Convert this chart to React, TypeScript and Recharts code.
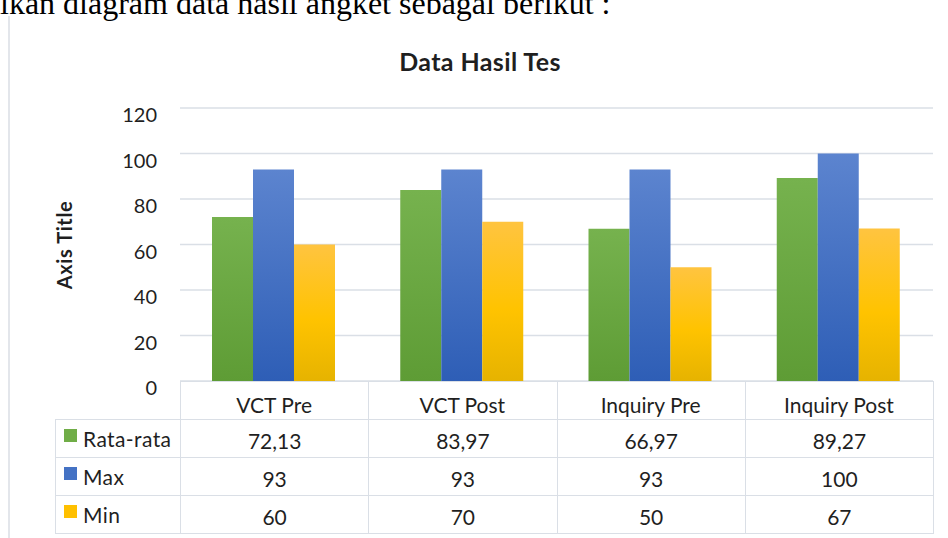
import React from 'react';
import { BarChart, Bar, XAxis, YAxis, CartesianGrid } from 'recharts';

const categories = ['VCT Pre', 'VCT Post', 'Inquiry Pre', 'Inquiry Post'];
const rataRata = [72.13, 83.97, 66.97, 89.27];
const maxValues = [93, 93, 93, 100];
const minValues = [60, 70, 50, 67];
const yTicks = [0, 20, 40, 60, 80, 100, 120];

const seriesList = [
  { key: 'rata', name: 'Rata-rata', values: rataRata, color: '#70ad47', grad: 'gGreen' },
  { key: 'max', name: 'Max', values: maxValues, color: '#4472c4', grad: 'gBlue' },
  { key: 'min', name: 'Min', values: minValues, color: '#ffc000', grad: 'gYellow' },
];

const chartData = categories.map((c, i) => ({
  name: c,
  rata: rataRata[i],
  max: maxValues[i],
  min: minValues[i],
}));

const FONT = 'Lato, "Open Sans", sans-serif';
const TEXT = '#1f1f1f';
const LINE = '#dadfe6';

const fmt = (v: number) => String(v).replace('.', ',');

const YTick = ({ x, y, payload }: any) => (
  <text x={x} y={y} dy={14} textAnchor="end" fontFamily={FONT} fontSize={20} fill={TEXT}>
    {payload.value}
  </text>
);

const XTick = ({ x, y, payload }: any) => (
  <text x={x} y={y} dy={32} textAnchor="middle" fontFamily={FONT} fontSize={21} fill={TEXT}>
    {payload.value}
  </text>
);

const AxisTitle = () => (
  <text
    x={72}
    y={245}
    transform="rotate(-90 72 245)"
    textAnchor="middle"
    fontFamily={FONT}
    fontWeight={700}
    fontSize={20}
    letterSpacing={0.6}
    fill={TEXT}
  >
    Axis Title
  </text>
);

const cellBorder = `1.5px solid ${LINE}`;

const DataTable = () => (
  <table
    style={{
      position: 'absolute',
      left: 55,
      top: 381,
      borderCollapse: 'collapse',
      tableLayout: 'fixed',
      width: 878,
      fontFamily: FONT,
      fontSize: 21,
      color: TEXT,
    }}
  >
    <colgroup>
      <col style={{ width: 125 }} />
      {categories.map((c) => (
        <col key={c} style={{ width: 188.25 }} />
      ))}
    </colgroup>
    <tbody>
      <tr style={{ height: 38 }}>
        <td style={{ border: 'none', padding: 0 }} />
        {categories.map((c) => (
          <td key={c} style={{ border: cellBorder, padding: 0 }} />
        ))}
      </tr>
      {seriesList.map((s) => (
        <tr key={s.key} style={{ height: 38 }}>
          <td style={{ border: cellBorder, padding: '0 0 0 8px', whiteSpace: 'nowrap' }}>
            <span
              style={{
                display: 'inline-block',
                width: 13,
                height: 13,
                background: s.color,
                marginRight: 6,
                verticalAlign: 5,
              }}
            />
            <span style={{ letterSpacing: 0.4 }}>{s.name}</span>
          </td>
          {s.values.map((v, i) => (
            <td key={i} style={{ border: cellBorder, padding: '3px 0 0 0', textAlign: 'center' }}>
              {fmt(v)}
            </td>
          ))}
        </tr>
      ))}
    </tbody>
  </table>
);

export default function App() {
  return (
    <div
      style={{
        position: 'absolute',
        left: 0,
        top: 0,
        width: 948,
        height: 538,
        overflow: 'hidden',
        background: '#fff',
      }}
    >
      <div
        style={{
          position: 'absolute',
          left: 0,
          top: -13,
          fontFamily: '"Liberation Serif", "Times New Roman", serif',
          fontSize: 32,
          lineHeight: '32px',
          color: '#000',
          whiteSpace: 'nowrap',
        }}
      >
        ikan diagram data hasil angket sebagai berikut :
      </div>
      <div
        style={{
          position: 'absolute',
          left: 8,
          top: 16,
          width: 2,
          height: 530,
          background: '#e3e6eb',
        }}
      />
      <div
        style={{
          position: 'absolute',
          left: 0,
          width: 960,
          top: 46,
          textAlign: 'center',
          fontFamily: FONT,
          fontWeight: 700,
          fontSize: 25,
          letterSpacing: 0.4,
          color: TEXT,
          lineHeight: '30px',
        }}
      >
        Data Hasil Tes
      </div>
      <div style={{ position: 'absolute', left: 0, top: 0 }}>
        <BarChart
          width={948}
          height={538}
          data={chartData}
          margin={{ top: 108, right: 15, bottom: 119, left: 0 }}
          barCategoryGap="17%"
          barGap={0}
        >
          <defs>
            <linearGradient id="gGreen" x1="0" y1="0" x2="0" y2="1">
              <stop offset="0%" stopColor="#76b24e" />
              <stop offset="100%" stopColor="#5e9c35" />
            </linearGradient>
            <linearGradient id="gBlue" x1="0" y1="0" x2="0" y2="1">
              <stop offset="0%" stopColor="#5c84cf" />
              <stop offset="100%" stopColor="#2e5eb6" />
            </linearGradient>
            <linearGradient id="gYellow" x1="0" y1="0" x2="0" y2="1">
              <stop offset="0%" stopColor="#ffc440" />
              <stop offset="55%" stopColor="#ffc300" />
              <stop offset="100%" stopColor="#e6b300" />
            </linearGradient>
          </defs>
          <CartesianGrid vertical={false} stroke={LINE} strokeWidth={1.5} />
          <XAxis
            dataKey="name"
            axisLine={false}
            tickLine={false}
            tickSize={0}
            tickMargin={0}
            height={38}
            tick={<XTick />}
            interval={0}
          />
          <YAxis
            domain={[0, 120]}
            ticks={yTicks}
            axisLine={false}
            tickLine={false}
            tickSize={0}
            tickMargin={23}
            width={180}
            tick={<YTick />}
            interval={0}
            label={<AxisTitle />}
          />
          {seriesList.map((s) => (
            <Bar
              key={s.key}
              dataKey={s.key}
              name={s.name}
              fill={`url(#${s.grad})`}
              isAnimationActive={false}
            />
          ))}
        </BarChart>
      </div>
      <DataTable />
    </div>
  );
}
